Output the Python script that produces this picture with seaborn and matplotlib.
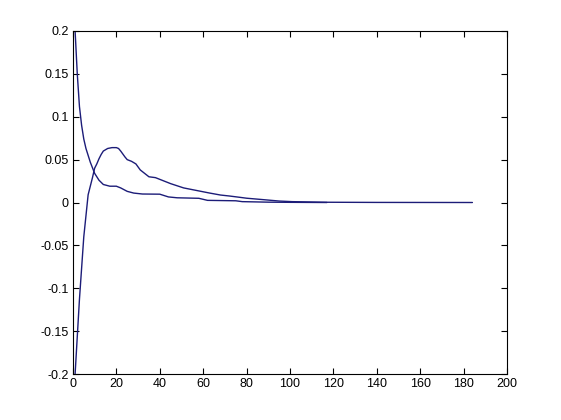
import matplotlib
matplotlib.use("Agg")
import matplotlib.pyplot as plt
import seaborn as sns
import pandas as pd

# decaying response
decay_x = [1, 2, 3, 4, 5, 6, 8, 10, 12, 14, 17, 20, 22, 25, 28, 32, 40, 44, 48,
           58, 62, 75, 78, 90, 100, 117]
decay_y = [0.200, 0.150, 0.112, 0.090, 0.074, 0.063, 0.047, 0.034, 0.026, 0.021,
           0.019, 0.019, 0.017, 0.013, 0.011, 0.0099, 0.0097, 0.0065, 0.0055,
           0.0049, 0.0025, 0.002, 0.001, 0.0004, 0.0002, 0.0]

# rising response
rise_x = [1, 3, 5, 7, 8, 9, 10, 11, 12, 13, 14, 16, 18, 20, 21, 22, 24, 25, 27,
          29, 31, 33, 35, 38, 40, 45, 51, 58, 63, 68, 72, 77, 80, 86, 95, 101,
          117, 140, 184]
rise_y = [-0.200, -0.113, -0.040, 0.009, 0.019, 0.029, 0.040, 0.045, 0.051,
          0.056, 0.060, 0.063, 0.064, 0.064, 0.063, 0.060, 0.053, 0.050, 0.048,
          0.045, 0.038, 0.034, 0.030, 0.029, 0.027, 0.022, 0.017, 0.0135,
          0.011, 0.0087, 0.0076, 0.006, 0.005, 0.0037, 0.0017, 0.001, 0.0003,
          0.0001, 0.0]

x_ticks = [0, 20, 40, 60, 80, 100, 120, 140, 160, 180, 200]
y_ticks = [-0.2, -0.15, -0.1, -0.05, 0, 0.05, 0.1, 0.15, 0.2]
y_tick_labels = ["-0.2", "-0.15", "-0.1", "-0.05", "0", "0.05", "0.1", "0.15", "0.2"]


def plotResponses():
    sns.set_style("ticks")
    plt.rcParams['font.family'] = ['Liberation Sans', 'DejaVu Sans']

    dfDecay = pd.DataFrame({'x': decay_x, 'y': decay_y})
    dfRise = pd.DataFrame({'x': rise_x, 'y': rise_y})

    fig = plt.figure(figsize=(5.61, 4.2), dpi=100)
    fig.patch.set_facecolor('white')
    ax = fig.add_axes([0.130, 0.1095, 0.774, 0.8167])

    lineColor = '#1c1c78'
    sns.lineplot(data=dfDecay, x='x', y='y', ax=ax, color=lineColor, linewidth=1.0)
    sns.lineplot(data=dfRise, x='x', y='y', ax=ax, color=lineColor, linewidth=1.0)

    ax.set_xlim(0, 200)
    ax.set_ylim(-0.2, 0.2)
    ax.set_xticks(x_ticks)
    ax.set_xticklabels([str(t) for t in x_ticks])
    ax.set_yticks(y_ticks)
    ax.set_yticklabels(y_tick_labels)
    ax.set_xlabel('')
    ax.set_ylabel('')

    ax.tick_params(direction='in', length=4, width=0.8, top=True, right=True,
                   labelsize=9, colors='black', pad=3)
    for spine in ax.spines.values():
        spine.set_visible(True)
        spine.set_color('black')
        spine.set_linewidth(0.8)

    fig.savefig('out.png', dpi=100)
    plt.close(fig)


if __name__ == "__main__":
    plotResponses()
